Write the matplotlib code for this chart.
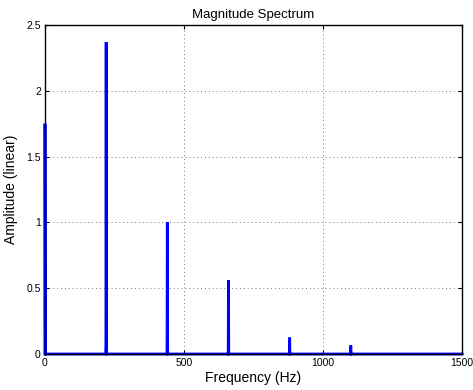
import numpy as np
import matplotlib
matplotlib.use("Agg")
import matplotlib.pyplot as plt

plt.rcParams['font.family'] = ['Liberation Sans', 'DejaVu Sans']

# harmonic peaks of the spectrum (Hz, linear amplitude)
peak_freqs = [0, 220, 440, 660, 880, 1100]
peak_amps = [1.75, 2.37, 1.0, 0.56, 0.125, 0.065]
# leakage skirts right at the base of the first peaks
skirt_amps = [0.0, 0.07, 0.03, 0.0, 0.0, 0.0]

xticks = [0, 500, 1000, 1500]
yticks = [0, 0.5, 1, 1.5, 2, 2.5]

# build the line: baseline, skirt, peak, skirt, baseline
f, a = [], []
for fr, amp, sk in zip(peak_freqs, peak_amps, skirt_amps):
    f += [fr - 2, fr - 1, fr, fr + 1, fr + 2]
    a += [0, sk, amp, sk, 0]
f = [max(v, 0) for v in f] + [1500]
a = a + [0]

fig = plt.figure(figsize=(4.73, 3.90), dpi=100)
ax = fig.add_axes([45 / 473, 36 / 390, 417 / 473, 329 / 390])
ax.plot(f, a, color='#0000ff', lw=2.0, solid_joinstyle='miter', clip_on=False)

ax.set_xlim(0, 1500)
ax.set_ylim(0, 2.5)
ax.set_xticks(xticks)
ax.set_yticks(yticks)
ax.set_xticklabels([str(t) for t in xticks])
ax.set_yticklabels(['0', '0.5', '1', '1.5', '2', '2.5'])
ax.tick_params(direction='in', length=3, width=0.8, labelsize=7.5,
               top=True, right=True, pad=3)
ax.grid(True, linestyle=(0, (1, 3)), color='#777777', lw=0.7)
for s in ax.spines.values():
    s.set_linewidth(1.0)
    s.set_color('black')

ax.set_title('Magnitude Spectrum', fontsize=9.5, pad=5)
ax.set_xlabel('Frequency (Hz)', fontsize=10, labelpad=2)
ax.set_ylabel('Amplitude (linear)', fontsize=10, labelpad=6)

fig.savefig('out.png', dpi=100)
